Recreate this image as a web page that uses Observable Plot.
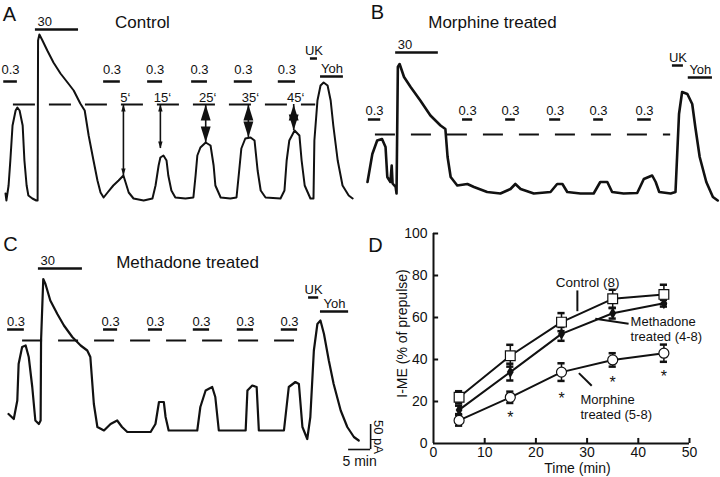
<!DOCTYPE html>
<html><head><meta charset="utf-8">
<script src="https://cdn.jsdelivr.net/npm/d3@7"></script>
<script src="https://cdn.jsdelivr.net/npm/@observablehq/plot@0.6"></script>
<style>
body{margin:0;background:#fff}
#fig{position:relative;width:720px;height:477px;background:#fff;overflow:hidden}
#fig svg{position:absolute;left:0;top:0}
</style></head><body><div id="fig"></div>
<script>
// ===== Panels A–C: current traces (time in min, current in pA above baseline) =====
const traceA = [[0,14],[0.2,0],[0.7,30],[1.1,80],[1.6,150],[2.3,180],[2.7,186],[3.2,180],[3.9,150],[4.3,80],[4.8,30],[5.2,10],[6.1,4],[7.0,0],[7.3,0],[7.4,320],[7.7,332],[8.4,320],[9.5,300],[10.9,276],[12.5,254],[14.1,236],[15.5,220],[17.0,194],[18.0,180],[18.9,130],[20.0,80],[20.9,40],[21.6,16],[22.3,6],[23.2,16],[24.5,30],[25.7,40],[26.8,50],[27.3,36],[28.0,16],[29.1,4],[31.4,0],[33.4,4],[34.1,30],[34.8,70],[35.2,86],[35.9,90],[36.6,80],[37.0,50],[37.7,20],[38.6,6],[40.9,4],[42.7,6],[43.2,50],[43.6,90],[44.3,106],[45.5,116],[46.6,110],[47.3,70],[47.7,30],[48.9,6],[51.1,4],[52.5,6],[53.0,50],[53.6,104],[54.5,124],[55.7,126],[56.6,120],[57.3,60],[58.0,20],[59.1,6],[62.5,4],[63.4,20],[63.9,80],[64.5,120],[65.7,140],[66.8,130],[67.3,80],[68.0,30],[69.3,4],[70.0,4],[70.2,120],[70.9,200],[71.6,230],[72.3,236],[73.2,230],[73.9,200],[74.5,150],[75.5,80],[76.6,30],[78.0,10],[78.9,4]];
const traceB = [[0,23],[1.1,79],[2.2,106],[3.3,109],[4.1,93],[4.5,33],[5.2,23],[5.5,56],[5.7,20],[6.4,13],[6.6,0],[6.9,253],[7.3,259],[8.3,233],[9.8,213],[12.0,186],[14.3,156],[16.6,136],[17.7,129],[18.2,73],[18.9,33],[20.4,16],[22.7,19],[24.2,13],[27.2,3],[30.2,0],[32.5,9],[33.6,19],[34.8,9],[37.8,0],[41.6,3],[43.1,19],[44.3,19],[45.4,3],[48.4,0],[51.4,0],[52.9,23],[54.5,23],[55.6,3],[58.2,0],[61.3,1],[62.8,29],[64.7,36],[65.5,23],[66.3,3],[68.9,0],[70.0,3],[70.8,159],[71.5,203],[72.7,199],[73.8,179],[74.5,133],[75.5,73],[77.0,23],[78.5,-7],[79.6,-14]];
const traceC = [[0,33],[1.2,23],[2.0,60],[2.3,133],[3.1,167],[3.9,170],[4.6,147],[5.4,87],[6.1,20],[6.9,13],[7.3,20],[7.4,180],[7.9,303],[8.4,293],[9.5,260],[11.1,233],[12.6,210],[14.5,187],[16.4,170],[17.9,160],[18.6,147],[19.4,53],[20.2,7],[21.7,0],[23.2,13],[24.7,20],[25.8,7],[27.0,-3],[32.3,-3],[33.4,13],[34.2,57],[35.3,57],[35.7,27],[36.4,0],[42.9,0],[43.6,47],[44.8,80],[46.3,87],[47.0,67],[47.8,0],[53.9,0],[54.3,80],[55.4,90],[56.4,87],[56.9,0],[62.6,0],[63.7,87],[65.2,97],[66.0,93],[66.8,7],[67.9,-17],[68.6,27],[69.4,160],[70.2,213],[70.9,220],[71.7,193],[72.8,140],[73.9,93],[75.5,40],[77.0,7],[78.5,-13],[79.6,-20]];

// drug applications (label, on, off in min; level = pA height where the bar sits)
const appLabels = ["0.3","30","0.3","0.3","0.3","0.3","0.3","UK","Yoh"];
const appA_on  = [-0.4,6.8,22.3,32.3,42.3,52.0,62.0,69.3,71.6];
const appA_off = [2.7,16.6,26.1,35.7,45.9,56.1,65.9,70.9,76.8];
const appA_lvl = [238,342,238,238,238,238,238,284,248];
const appB_on  = [0.2,6.4,21.6,31.4,41.4,51.4,61.4,69.3,72.9];
const appB_off = [3.0,16.1,23.9,33.6,43.9,53.6,64.5,71.8,78.4];
const appB_lvl = [148,282,148,148,148,148,148,256,232];
const appC_on  = [-0.2,6.8,21.6,31.8,42.0,52.0,62.0,68.2,70.9];
const appC_off = [3.6,16.8,24.8,35.0,45.7,55.7,65.7,70.5,77.3];
const appC_lvl = [202,324,202,202,202,202,202,266,238];

// reference (first 0.3 response) level: [pA, from, to]
const refA = [192, 1.8, 70.5];
const refB = [118, 1.8, 68.9];
const refC = [180, 3.2, 65.0];

// panel A arrows (response amplitude at 5…45 min)
const arrowT = [26.8,35.2,45.5,55.2,65.5];
const arrowBottom = [50,104,116,126,140];
const arrowLabels = ["5‘","15‘","25‘","35‘","45‘"];

// scale bar
const scaleMin = 5, scalePA = 50, scaleCorner = [82.3, -38];

// ===== Panel D =====
const dTime = [5,15,25,35,45];
const ctrlMean = [22.0,41.8,57.8,68.9,71.0], ctrlErr = [2.9,5.2,4.3,4.3,4.6];
const methMean = [16.0,34.0,52.2,62.0,66.8], methErr = [2.0,4.0,3.3,2.5,1.6];
const morphMean = [11.0,22.0,34.0,39.8,43.0], morphErr = [2.5,2.7,4.2,3.2,4.1];
const xTicks = [0,10,20,30,40,50];
const yTicks = [0,20,40,60,80,100];
const sigT = [15,25,35,45], sigY = [14.3,23.3,31.0,33.8];
const annText = ["Control (8)","Methadone\ntreated (4-8)","Morphine\ntreated (5-8)"];
const annX = [30.1,38.5,28.7], annY = [76.7,54.6,17.6];
const leadX1 = [28.1,31.6,28.4], leadY1 = [72.9,59.4,33.5];
const leadX2 = [28.1,38.1,30.9], leadY2 = [63.0,57.0,27.5];

// ===== drawing =====
const FONT = "'Liberation Sans', Arial, Helvetica, sans-serif";
const PX_MIN = 4.4, PX_PA = 0.5;
const fig = document.getElementById("fig");
const baseStyle = {background:"transparent", overflow:"visible", fontFamily:FONT, fontSize:"13px", color:"#111"};
const C = {textAnchor:"middle", lineAnchor:"middle"};

const headSym = {draw(ctx, size){const s=Math.sqrt(size), h=s, w=s*0.62; ctx.moveTo(0,0); ctx.lineTo(-w/2,h); ctx.lineTo(w/2,h); ctx.closePath();}};
const mid = d => (d.on + d.off) / 2;

function tracePanel({trace, on, off, lvl, ref, dashArray, x0, y0, letter, letterXY, title, titleXY, labelDy, strokeW, extra}) {
  const apps = appLabels.map((l,i)=>({label:l, on:on[i], off:off[i], level:lvl[i]}));
  const marks = [
    Plot.line(trace, {x:d=>d[0], y:d=>d[1], stroke:"#111", strokeWidth:strokeW, strokeLinejoin:"round"}),
    Plot.ruleY([ref], {y:d=>d[0], x1:d=>d[1], x2:d=>d[2], stroke:"#111", strokeWidth:2, strokeDasharray:dashArray}),
    Plot.ruleY(apps, {y:"level", x1:"on", x2:"off", stroke:"#111", strokeWidth:2.5}),
    Plot.text(apps.filter(d=>d.label==="0.3"), {x:mid, y:"level", text:"label", dy:labelDy, fontSize:13}),
    Plot.text(apps.filter(d=>d.label==="30"), {x:"on", y:"level", text:"label", dy:-8, dx:2, textAnchor:"start", fontSize:13}),
    Plot.text(apps.filter(d=>d.label==="UK"||d.label==="Yoh"), {x:mid, y:"level", text:"label", dy:-8, fontSize:13}),
    Plot.text([letter], {frameAnchor:"top-left", dx:letterXY[0], dy:letterXY[1], fontSize:20, ...C}),
    Plot.text([title], {frameAnchor:"top-left", dx:titleXY[0], dy:titleXY[1], fontSize:17, ...C}),
    ...(extra || [])
  ];
  return Plot.plot({
    width:720, height:477, margin:0,
    x:{axis:null, domain:[0,80], range:[x0, x0+80*PX_MIN]},
    y:{axis:null, domain:[0,400], range:[y0, y0-400*PX_PA]},
    style:baseStyle, marks
  });
}

const arrows = arrowT.map((t,i)=>({t, top:refA[0], bottom:arrowBottom[i], label:arrowLabels[i], big:i>=2}));
const arrowMarks = [
  Plot.ruleX(arrows, {x:"t", y1:"top", y2:"bottom", stroke:"#111", strokeWidth:1.6}),
  Plot.dot(arrows.filter(d=>!d.big), {x:"t", y:"top", symbol:headSym, r:4, fill:"#111", stroke:null}),
  Plot.dot(arrows.filter(d=>!d.big), {x:"t", y:"bottom", symbol:headSym, r:4, fill:"#111", stroke:null, rotate:180}),
  Plot.dot(arrows.filter(d=>d.big), {x:"t", y:"top", symbol:headSym, r:9, fill:"#111", stroke:null}),
  Plot.dot(arrows.filter(d=>d.big), {x:"t", y:"bottom", symbol:headSym, r:9, fill:"#111", stroke:null, rotate:180}),
  Plot.text(arrows, {x:"t", y:"top", text:"label", dy:-7, dx:2, fontSize:13})
];

const sb = [{t:scaleCorner[0], i:scaleCorner[1]}];
const scaleMarks = [
  Plot.ruleY(sb, {y:"i", x1:d=>d.t-scaleMin, x2:"t", stroke:"#111", strokeWidth:1.6}),
  Plot.ruleX(sb, {x:"t", y1:"i", y2:d=>d.i+scalePA, stroke:"#111", strokeWidth:1.6}),
  Plot.text(sb, {x:d=>d.t-scaleMin/2, y:"i", text:()=>scaleMin+" min", dy:12, fontSize:14}),
  Plot.text(sb, {x:"t", y:d=>d.i+scalePA/2, text:()=>scalePA+" pA", dx:8, rotate:90, fontSize:13})
];

fig.append(tracePanel({trace:traceA, on:appA_on, off:appA_off, lvl:appA_lvl, ref:refA, dashArray:"22,14",
  x0:5, y0:200, letter:"A", letterXY:[9,14], title:"Control", titleXY:[142,22], labelDy:-12, strokeW:2, extra:arrowMarks}));
fig.append(tracePanel({trace:traceB, on:appB_on, off:appB_off, lvl:appB_lvl, ref:refB, dashArray:"20,16",
  x0:367, y0:193, letter:"B", letterXY:[377,12], title:"Morphine treated", titleXY:[492,22], labelDy:-9, strokeW:2.6}));
fig.append(tracePanel({trace:traceC, on:appC_on, off:appC_off, lvl:appC_lvl, ref:refC, dashArray:"20,16",
  x0:8, y0:430, letter:"C", letterXY:[10,244], title:"Methadone treated", titleXY:[187,262], labelDy:-8, strokeW:2.2, extra:scaleMarks}));

// Panel D
const series = [["Control",ctrlMean,ctrlErr],["Methadone",methMean,methErr],["Morphine",morphMean,morphErr]];
const rows = series.flatMap(([name,m,e]) => dTime.map((t,i)=>({series:name, t, m:m[i], e:e[i]})));
const ann = annText.map((s,i)=>({s, x:annX[i], y:annY[i]}));
const leads = leadX1.map((x,i)=>({x1:x, y1:leadY1[i], x2:leadX2[i], y2:leadY2[i]}));
const sig = sigT.map((t,i)=>({t, y:sigY[i]}));

fig.append(Plot.plot({
  width:720, height:477, marginLeft:433, marginRight:31, marginTop:233, marginBottom:34,
  x:{domain:[0,50], ticks:xTicks, tickSize:0, tickPadding:4, label:null},
  y:{domain:[0,100], ticks:yTicks, tickSize:0, tickPadding:6, label:null},
  style:{...baseStyle, fontSize:"14px"},
  marks:[
    Plot.ruleX([0], {y1:0, y2:100, stroke:"#111", strokeWidth:2}),
    Plot.ruleY([0], {x1:0, x2:50, stroke:"#111", strokeWidth:2}),
    Plot.ruleX(xTicks.slice(1), {x:d=>d, y1:0, y2:2.4, stroke:"#111", strokeWidth:2}),
    Plot.ruleY(yTicks.slice(1), {y:d=>d, x1:0, x2:1, stroke:"#111", strokeWidth:2}),
    Plot.line(rows, {x:"t", y:"m", z:"series", stroke:"#111", strokeWidth:2}),
    Plot.ruleX(rows, {x:"t", y1:d=>d.m-d.e, y2:d=>d.m+d.e, stroke:"#111", strokeWidth:1.5}),
    Plot.ruleY(rows, {y:d=>d.m+d.e, x1:d=>d.t-0.7, x2:d=>d.t+0.7, stroke:"#111", strokeWidth:2.5}),
    Plot.ruleY(rows, {y:d=>d.m-d.e, x1:d=>d.t-0.7, x2:d=>d.t+0.7, stroke:"#111", strokeWidth:2.5}),
    Plot.dot(rows.filter(d=>d.series==="Methadone"), {x:"t", y:"m", symbol:"diamond", r:3.6, fill:"#111", stroke:null}),
    Plot.dot(rows.filter(d=>d.series==="Control"), {x:"t", y:"m", symbol:"square", r:5.5, fill:"white", stroke:"#111", strokeWidth:1.2}),
    Plot.dot(rows.filter(d=>d.series==="Morphine"), {x:"t", y:"m", symbol:"circle", r:5, fill:"white", stroke:"#111", strokeWidth:1.2}),
    Plot.link(leads, {x1:"x1", y1:"y1", x2:"x2", y2:"y2", stroke:"#111", strokeWidth:2}),
    Plot.text(ann.slice(0,1), {x:"x", y:"y", text:"s", fontSize:13.5}),
    Plot.text(ann.slice(1), {x:"x", y:"y", text:"s", textAnchor:"start", lineHeight:1.15, fontSize:13}),
    Plot.text(sig, {x:"t", y:"y", text:()=>"*", dy:4, fontSize:16}),
    Plot.text(["Time (min)"], {frameAnchor:"bottom", dx:16, dy:25, fontSize:14, ...C}),
    Plot.text(["I-ME (% of prepulse)"], {frameAnchor:"left", dx:-31, dy:-5, rotate:-90, fontSize:14, ...C}),
    Plot.text(["D"], {frameAnchor:"top-left", dx:-58, dy:12, fontSize:20, ...C})
  ]
}));
</script></body></html>
